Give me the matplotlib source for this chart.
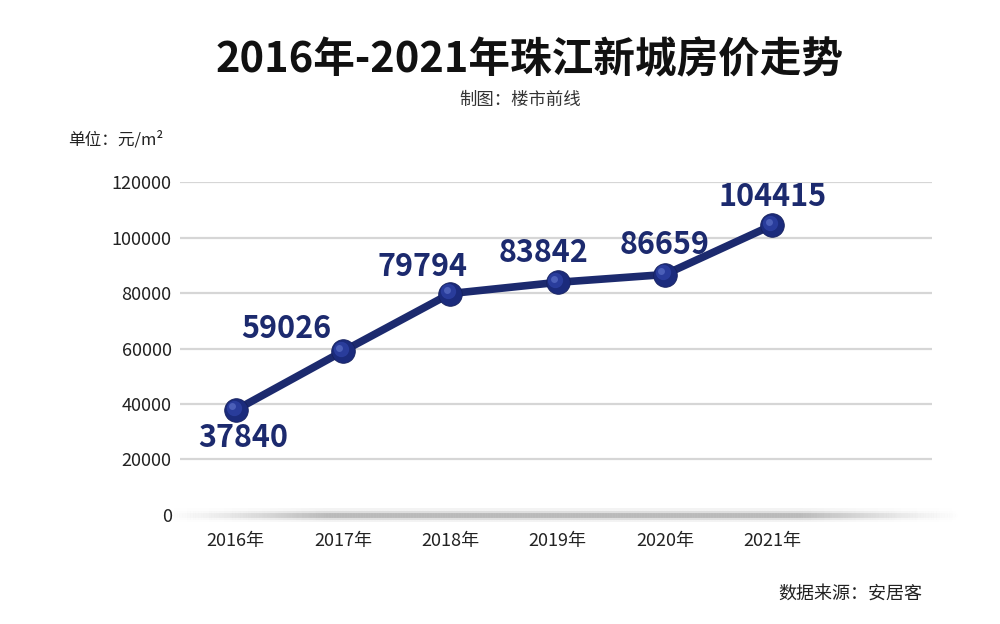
import numpy as np
import matplotlib.pyplot as plt
from matplotlib.collections import LineCollection
from matplotlib.transforms import offset_copy

plt.rcParams['font.family'] = ['Noto Sans CJK SC', 'DejaVu Sans']

years = ['2016年', '2017年', '2018年', '2019年', '2020年', '2021年']
prices = [37840, 59026, 79794, 83842, 86659, 104415]
yticks = [0, 20000, 40000, 60000, 80000, 100000, 120000]
# label offsets in pixels relative to each point
label_offsets = [(7, -28), (-57, 22), (-28, 27), (-14, 29), (0, 30), (0, 28)]

navy = '#1c2a6e'

fig = plt.figure(figsize=(10, 6.24), dpi=100)
ax = fig.add_axes([0.18, 0.1747, 0.752, 0.5336])

x = np.arange(len(years))
ax.set_xlim(-0.52, 6.49)
ax.set_ylim(0, 120000)

# grid lines
for v in yticks[1:]:
    ax.axhline(v, color='#d6d6d6', lw=1.6, zorder=0)

# soft shadow baseline fading at both ends
bx = np.linspace(-0.65, 6.75, 300)
segs = [[(bx[i], 0), (bx[i + 1], 0)] for i in range(len(bx) - 1)]
mid = (bx[:-1] + bx[1:]) / 2
fade = np.clip(np.minimum(mid - bx[0], bx[-1] - mid) / 1.5, 0, 1) ** 1.3
for lw, a in [(10, 0.08), (6.5, 0.14), (3.5, 0.3)]:
    cols = [(0.4, 0.4, 0.4, a * f) for f in fade]
    lc = LineCollection(segs, colors=cols, linewidths=lw, clip_on=False, zorder=1)
    ax.add_collection(lc)

ax.plot(x, prices, color=navy, lw=5.5, solid_capstyle='round', zorder=3, clip_on=False)
# sphere-like markers: dark body plus a soft highlight shifted up-left
ax.plot(x, prices, 'o', ms=17, color='#1b2b7c', mec='#16215e', mew=0.6, zorder=4, clip_on=False)
hl = offset_copy(ax.transData, fig=fig, x=-1.6, y=1.6, units='points')
ax.plot(x, prices, 'o', ms=11, color='#2b3f9f', mew=0, alpha=0.9, zorder=5,
        clip_on=False, transform=hl)
hl2 = offset_copy(ax.transData, fig=fig, x=-2.6, y=2.6, units='points')
ax.plot(x, prices, 'o', ms=5, color='#5468c0', mew=0, alpha=0.8, zorder=6,
        clip_on=False, transform=hl2)

for xi, v, (dx, dy) in zip(x, prices, label_offsets):
    ax.annotate(str(v), xy=(xi, v), xytext=(dx, dy), textcoords='offset pixels',
                ha='center', va='center', fontsize=22, fontweight='bold',
                color=navy, zorder=7)

ax.set_xticks(x)
ax.set_xticklabels(years)
ax.set_yticks(yticks)
ax.set_yticklabels([str(v) for v in yticks])
ax.tick_params(axis='both', length=0, labelsize=13, colors='#222222')
ax.tick_params(axis='x', pad=12)
ax.tick_params(axis='y', pad=6)
for s in ax.spines.values():
    s.set_visible(False)

fig.text(0.53, 0.904, '2016年-2021年珠江新城房价走势', ha='center', va='center',
         fontsize=30, fontweight='heavy', color='#111111')
fig.text(0.52, 0.84, '制图：楼市前线', ha='center', va='center', fontsize=12.5, color='#333333')
fig.text(0.068, 0.776, '单位：元/m²', ha='left', va='center', fontsize=12, color='#222222')
fig.text(0.922, 0.049, '数据来源：安居客', ha='right', va='center', fontsize=13, color='#222222')

fig.savefig('out.png', dpi=100, facecolor='white')
